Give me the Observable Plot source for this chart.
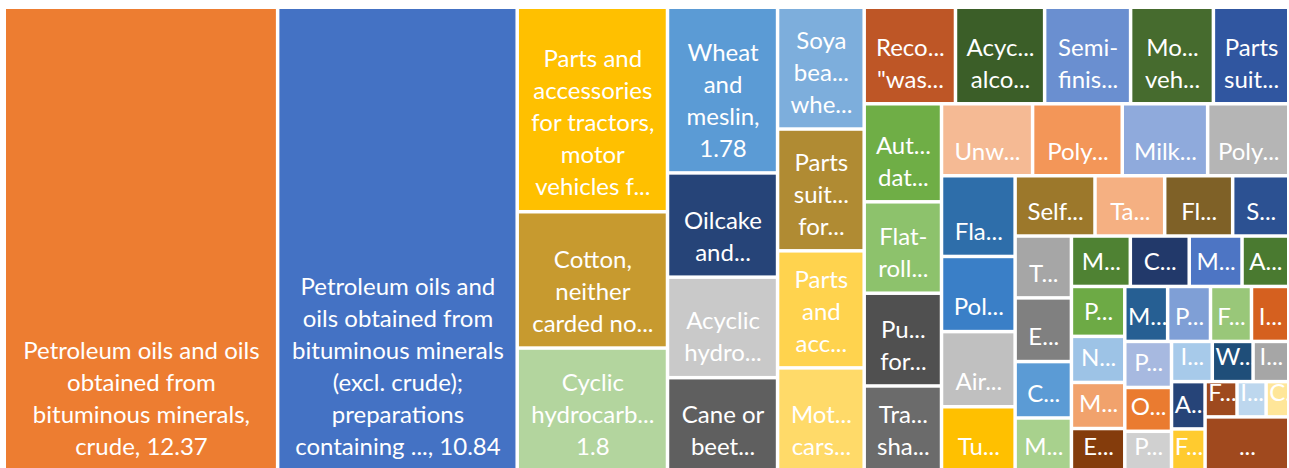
<!DOCTYPE html>
<html><head><meta charset="utf-8">
<script src="https://cdn.jsdelivr.net/npm/d3@7"></script>
<script src="https://cdn.jsdelivr.net/npm/@observablehq/plot@0.6"></script>
<style>html,body{margin:0;padding:0;background:#fff}svg{display:block}</style>
</head><body><div id="chart"></div>
<script>
// Labels as displayed (truncated as in the reference), one array of lines per cell
const labels = [
  ["Petroleum oils and oils","obtained from","bituminous minerals,","crude, 12.37"],
  ["Petroleum oils and","oils obtained from","bituminous minerals","(excl. crude);","preparations","containing ..., 10.84"],
  ["Parts and","accessories","for tractors,","motor","vehicles f..."],
  ["Cotton,","neither","carded no..."],
  ["Cyclic","hydrocarb...","1.8"],
  ["Wheat","and","meslin,","1.78"],
  ["Oilcake","and..."],
  ["Acyclic","hydro..."],
  ["Cane or","beet..."],
  ["Soya","bea...","whe..."],
  ["Parts","suit...","for..."],
  ["Parts","and","acc..."],
  ["Mot...","cars..."],
  ["Reco...","\"was..."],
  ["Acyc...","alco..."],
  ["Semi-","finis..."],
  ["Mo...","veh..."],
  ["Parts","suit..."],
  ["Aut...","dat..."],
  ["Flat-","roll..."],
  ["Pu...","for..."],
  ["Tra...","sha..."],
  ["Unw..."],["Poly..."],["Milk..."],["Poly..."],
  ["Fla..."],["Pol..."],["Air..."],["Tu..."],
  ["Self..."],["Ta..."],["Fl..."],["S..."],
  ["T..."],["E..."],["C..."],["M..."],
  ["M..."],["C..."],["M..."],["A..."],
  ["P..."],["N..."],["M..."],["E..."],
  ["M..."],["P..."],["F..."],["I..."],
  ["P..."],["O..."],["P..."],
  ["I..."],["W..."],["I..."],
  ["A..."],["F..."],
  ["F..."],["I..."],["C..."],
  ["..."]
];

// Values (estimated from the areas, except the printed ones)
const values = [
  12.37, 10.84,
  3.00, 2.00, 1.80,
  1.78, 1.12, 1.08, 1.00,
  1.03, 1.03, 0.99, 0.87,
  0.86, 0.84, 0.81, 0.78, 0.71,
  0.74, 0.69, 0.70, 0.64,
  0.64, 0.63, 0.60, 0.57,
  0.58, 0.54, 0.54, 0.46,
  0.47, 0.41, 0.40, 0.33,
  0.34, 0.35, 0.31, 0.29,
  0.29, 0.29, 0.26, 0.23,
  0.26, 0.24, 0.24, 0.22,
  0.23, 0.23, 0.22, 0.20,
  0.21, 0.20, 0.18,
  0.16, 0.16, 0.14,
  0.155, 0.137,
  0.11, 0.10, 0.078,
  0.44
];

const colors = [
  "#ED7D31","#4472C4",
  "#FFC000","#C79A2F","#B3D59E",
  "#5B9BD5","#264478","#C9C9C9","#5F5F5F",
  "#7DAEDC","#B08B33","#FFD34E","#FFDA69",
  "#BE5626","#3B5E28","#6A8FD0","#466B2E","#3056A0",
  "#6FAE46","#8DC26C","#505050","#6B6B6B",
  "#F5BA94","#F39658","#8FAADC","#B5B5B5",
  "#2E6EAA","#3A7FC7","#C0C0C0","#FFC000",
  "#9C782B","#F5B082","#7F6127","#2C5192",
  "#A6A6A6","#808080","#5B9BD5","#A8D18D",
  "#4F8233","#22396A","#4D75C4","#4A7A30",
  "#6DAA45","#9DC3E6","#F1A26C","#843C0C",
  "#265F93","#7F9FD6","#99C779","#D5601F",
  "#A7B9E0","#EA7B30","#D0D0D0",
  "#A7CAEA","#1F4E79","#A6A6A6",
  "#264478","#FFCB2F",
  "#9E4A1E","#BDD7EE","#FFE699",
  "#A0491E"
];

// How many cells go in each successive strip of the squarified layout
const rowSizes = [1,1,3,4,4,5,4,4,4,4,4,4,4,4,3,3,2,3,1];

(function () {
  const W = 1289, H = 468;
  const padL = 6, padT = 9, edgeR = 1287, edgeB = 469;
  const fontSize = 24, lineStep = 32, baselinePad = 15;
  const fontFamily = "Lato";

  function tileRows(node, x0, y0, x1, y1) {
    const kids = node.children;
    let i = 0, remaining = node.value;
    for (const k of rowSizes) {
      const row = kids.slice(i, i + k); i += k;
      if (!row.length) break;
      const sum = d3.sum(row, d => d.value);
      const dx = x1 - x0, dy = y1 - y0;
      if (dx < dy) {
        const h = dy * sum / remaining;
        let x = x0;
        for (const c of row) { c.x0 = x; x += dx * c.value / sum; c.x1 = x; c.y0 = y0; c.y1 = y0 + h; }
        y0 += h;
      } else {
        const w = dx * sum / remaining;
        let y = y0;
        for (const c of row) { c.y0 = y; y += dy * c.value / sum; c.y1 = y; c.x0 = x0; c.x1 = x0 + w; }
        x0 += w;
      }
      remaining -= sum;
    }
  }

  const items = labels.map((l, i) => ({lines: l, value: values[i], color: colors[i]}));
  const root = d3.hierarchy({children: items}).sum(d => d.value || 0);
  d3.treemap().tile(tileRows).size([edgeR - padL, edgeB - padT]).paddingInner(3.5)(root);

  const cells = root.leaves().map(d => ({
    x1: d.x0 + padL, x2: d.x1 + padL, y1: d.y0 + padT, y2: d.y1 + padT,
    fill: d.data.color, lines: d.data.lines
  }));

  const ctx = document.createElement("canvas").getContext("2d");
  ctx.font = `${fontSize}px ${fontFamily}`;

  const centered = [], leftAligned = [];
  cells.forEach((c, ci) => {
    const n = c.lines.length;
    c.lines.forEach((t, j) => {
      const baseline = c.y2 - baselinePad - (n - 1 - j) * lineStep;
      const y = baseline - 0.32 * fontSize;
      const w = ctx.measureText(t).width;
      if (w > c.x2 - c.x1 - 2) leftAligned.push({x: c.x1 + 1, y, t, cell: ci});
      else centered.push({x: (c.x1 + c.x2) / 2, y, t, cell: ci});
    });
  });

  const chart = Plot.plot({
    width: W, height: H, margin: 0,
    style: {background: "#fff"},
    x: {domain: [0, W], range: [0, W], axis: null},
    y: {domain: [0, H], range: [0, H], axis: null},
    color: {type: "identity"},
    marks: [
      Plot.rect(cells, {x1: "x1", x2: "x2", y1: "y1", y2: "y2", fill: "fill"}),
      Plot.text(centered, {x: "x", y: "y", text: "t", fill: "white", fontSize, fontFamily}),
      Plot.text(leftAligned, {x: "x", y: "y", text: "t", fill: "white", fontSize, fontFamily, textAnchor: "start"})
    ]
  });

  // clip each label to its own cell, as the original chart does
  const svg = d3.select(chart);
  const defs = svg.insert("defs", ":first-child");
  cells.forEach((c, i) => {
    defs.append("clipPath").attr("id", `cellclip${i}`)
      .append("rect").attr("x", c.x1).attr("y", c.y1)
      .attr("width", c.x2 - c.x1).attr("height", c.y2 - c.y1);
  });
  const groups = [centered, leftAligned];
  svg.selectAll('g[aria-label="text"]').each(function (_, gi) {
    const rows = groups[gi];
    d3.select(this).selectAll("text").each(function (_, k) {
      const wrap = document.createElementNS("http://www.w3.org/2000/svg", "g");
      wrap.setAttribute("clip-path", `url(#cellclip${rows[k].cell})`);
      this.parentNode.insertBefore(wrap, this);
      wrap.appendChild(this);
    });
  });

  document.getElementById("chart").appendChild(chart);
})();
</script>
</body></html>
